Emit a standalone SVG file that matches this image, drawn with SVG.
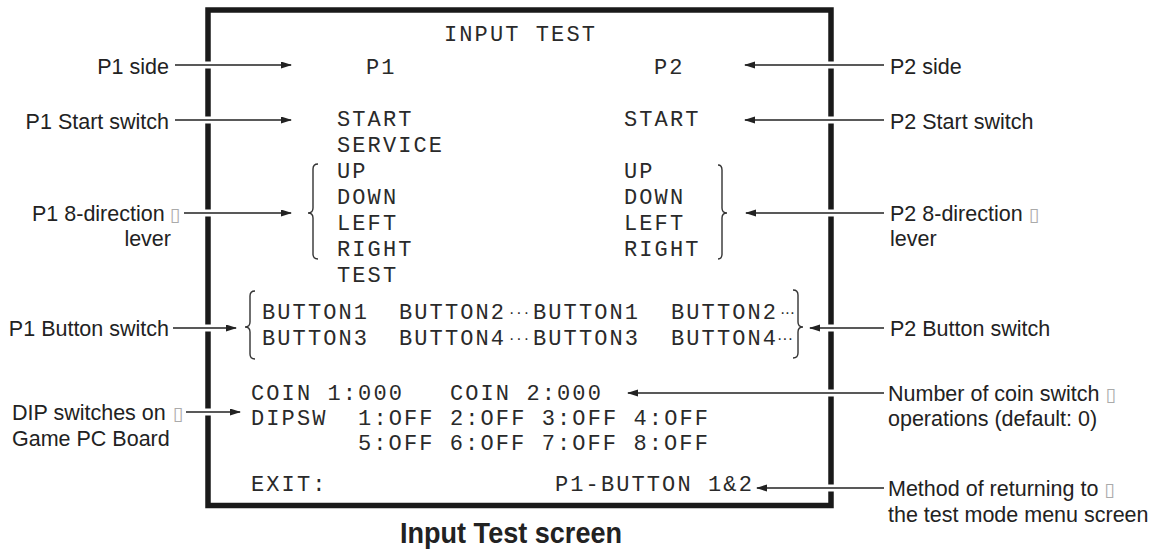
<svg xmlns="http://www.w3.org/2000/svg" width="1162" height="549" viewBox="0 0 1162 549">
<style>
.mono{font-family:"Liberation Mono","Courier New",monospace;font-size:22px;letter-spacing:2.1px;fill:#2a2a2a}
.lbl{font-family:"Liberation Sans",Arial,sans-serif;font-size:21.5px;fill:#222}
.end{text-anchor:end}
.tofu{font-family:"DejaVu Sans",sans-serif;font-size:19px;fill:#aaa}
.dots{font-family:"Liberation Sans",Arial,sans-serif;font-size:16px;fill:#2a2a2a}
.cap{font-family:"Liberation Sans",Arial,sans-serif;font-size:30px;font-weight:bold;fill:#222}
.ln{stroke:#222;stroke-width:1.3;fill:none}
.halo{stroke:#fff;stroke-width:7;fill:none}
.brace{stroke:#333;stroke-width:1.4;fill:none}
</style>
<defs>
<marker id="ah" markerUnits="userSpaceOnUse" markerWidth="12" markerHeight="8" refX="10" refY="3.5" orient="auto">
<path d="M0,0 L11,3.5 L0,7 Z" fill="#222"/>
</marker>
</defs>
<rect width="1162" height="549" fill="#fff"/>

<g id="screen">
<rect x="208" y="10" width="623" height="495.5" fill="none" stroke="#1a1a1a" stroke-width="5.5"/>
</g>

<g id="connectors">
<g class="halo">
<line x1="198" y1="65" x2="218" y2="65"/>
<line x1="198" y1="120" x2="218" y2="120"/>
<line x1="198" y1="213" x2="218" y2="213"/>
<line x1="198" y1="328" x2="218" y2="328"/>
<line x1="198" y1="412" x2="218" y2="412"/>
<line x1="821" y1="65" x2="841" y2="65"/>
<line x1="821" y1="120" x2="841" y2="120"/>
<line x1="821" y1="213" x2="841" y2="213"/>
<line x1="821" y1="328" x2="841" y2="328"/>
<line x1="821" y1="393" x2="841" y2="393"/>
<line x1="821" y1="488" x2="841" y2="488"/>
</g>
<g class="ln" marker-end="url(#ah)">
<line x1="175" y1="65" x2="291" y2="65"/>
<line x1="175" y1="120" x2="291" y2="120"/>
<line x1="184" y1="213" x2="291" y2="213"/>
<line x1="173" y1="328" x2="236" y2="328"/>
<line x1="186" y1="412" x2="240" y2="412"/>
<line x1="884" y1="65" x2="745" y2="65"/>
<line x1="884" y1="120" x2="745" y2="120"/>
<line x1="884" y1="213" x2="746" y2="213"/>
<line x1="884" y1="328" x2="810" y2="328"/>
<line x1="884" y1="393" x2="628" y2="393"/>
<line x1="884" y1="488" x2="757" y2="488"/>
</g>
</g>

<g id="title"><text class="mono" x="444" y="41">INPUT TEST</text></g>
<g id="p1-header"><text class="mono" x="366" y="74">P1</text></g>
<g id="p2-header"><text class="mono" x="654" y="74">P2</text></g>

<g id="p1-switches">
<text class="mono" x="337" y="126">START</text>
<text class="mono" x="337" y="152">SERVICE</text>
<text class="mono" x="337" y="178">UP</text>
<text class="mono" x="337" y="204">DOWN</text>
<text class="mono" x="337" y="230">LEFT</text>
<text class="mono" x="337" y="256">RIGHT</text>
<text class="mono" x="337" y="282">TEST</text>
<path class="brace" d="M318,164 Q313,164 313,169 L313,208 Q313,213 308,213 Q313,213 313,218 L313,254 Q313,259 318,259"/>
</g>

<g id="p2-switches">
<text class="mono" x="624" y="126">START</text>
<text class="mono" x="624" y="178">UP</text>
<text class="mono" x="624" y="204">DOWN</text>
<text class="mono" x="624" y="230">LEFT</text>
<text class="mono" x="624" y="256">RIGHT</text>
<path class="brace" d="M718,165 Q722,165 722,170 L722,208 Q722,213 727,213 Q722,213 722,218 L722,254 Q722,259 718,259"/>
</g>

<g id="buttons">
<path class="brace" d="M255,291 Q250,291 250,296 L250,322 Q250,327 245,327 Q250,327 250,332 L250,354 Q250,359 255,359"/>
<text class="mono" x="262" y="319">BUTTON1</text>
<text class="mono" x="399" y="319">BUTTON2</text>
<text class="dots" x="509" y="317.5" textLength="20" lengthAdjust="spacing">···</text>
<text class="mono" x="533" y="319">BUTTON1</text>
<text class="mono" x="671" y="319">BUTTON2</text>
<text class="dots" x="780" y="317.5" textLength="15" lengthAdjust="spacing">···</text>
<text class="mono" x="262" y="345">BUTTON3</text>
<text class="mono" x="399" y="345">BUTTON4</text>
<text class="dots" x="509" y="343.5" textLength="20" lengthAdjust="spacing">···</text>
<text class="mono" x="533" y="345">BUTTON3</text>
<text class="mono" x="671" y="345">BUTTON4</text>
<text class="dots" x="777" y="343.5" textLength="16" lengthAdjust="spacing">···</text>
<path class="brace" d="M793,290 Q798,290 798,295 L798,322 Q798,327 803,327 Q798,327 798,332 L798,353 Q798,358 793,358"/>
</g>

<g id="coin-dip">
<text class="mono" x="251" y="400" xml:space="preserve">COIN 1:000   COIN 2:000</text>
<text class="mono" x="251" y="425" xml:space="preserve">DIPSW  1:OFF 2:OFF 3:OFF 4:OFF</text>
<text class="mono" x="358" y="450">5:OFF 6:OFF 7:OFF 8:OFF</text>
</g>

<g id="exit">
<text class="mono" x="251" y="491">EXIT:</text>
<text class="mono" x="555" y="491">P1-BUTTON 1&amp;2</text>
</g>

<g id="label-p1-side"><text class="lbl end" x="169" y="73.5">P1 side</text></g>
<g id="label-p1-start"><text class="lbl end" x="169" y="128.5">P1 Start switch</text></g>
<g id="label-p1-lever">
<text class="lbl" x="32" y="220.5">P1 8-direction<tspan class="tofu" dx="5">▯</tspan></text>
<text class="lbl end" x="171" y="246">lever</text>
</g>
<g id="label-p1-button"><text class="lbl end" x="169" y="335.5">P1 Button switch</text></g>
<g id="label-dip">
<text class="lbl" x="12" y="420">DIP switches on<tspan class="tofu" dx="7">▯</tspan></text>
<text class="lbl" x="12" y="445.5">Game PC Board</text>
</g>

<g id="label-p2-side"><text class="lbl" x="890" y="73.5">P2 side</text></g>
<g id="label-p2-start"><text class="lbl" x="890" y="128.5">P2 Start switch</text></g>
<g id="label-p2-lever">
<text class="lbl" x="890" y="220.5">P2 8-direction<tspan class="tofu" dx="6">▯</tspan></text>
<text class="lbl" x="890" y="246">lever</text>
</g>
<g id="label-p2-button"><text class="lbl" x="890" y="335.5">P2 Button switch</text></g>
<g id="label-coin">
<text class="lbl" x="888" y="400.5">Number of coin switch<tspan class="tofu" dx="6">▯</tspan></text>
<text class="lbl" x="888" y="426">operations (default: 0)</text>
</g>
<g id="label-exit">
<text class="lbl" x="888" y="496">Method of returning to<tspan class="tofu" dx="6">▯</tspan></text>
<text class="lbl" x="888" y="522">the test mode menu screen</text>
</g>

<g id="caption"><text class="cap" x="400" y="543" textLength="222" lengthAdjust="spacingAndGlyphs">Input Test screen</text></g>
</svg>
